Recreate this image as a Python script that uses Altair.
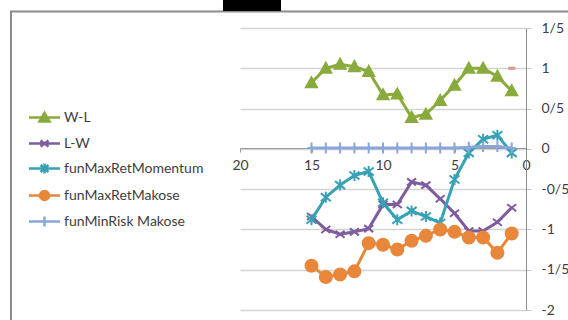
import altair as alt
import pandas as pd

# ---- data ----
x_vals = [15, 14, 13, 12, 11, 10, 9, 8, 7, 6, 5, 4, 3, 2, 1]
wl = [0.82, 1.00, 1.05, 1.02, 0.96, 0.67, 0.68, 0.39, 0.43, 0.60, 0.79, 1.00, 1.00, 0.90, 0.72]
lw = [-0.84, -1.00, -1.06, -1.03, -0.99, -0.69, -0.69, -0.41, -0.45, -0.62, -0.80, -1.02, -1.02, -0.91, -0.73]
mom = [-0.88, -0.60, -0.45, -0.33, -0.28, -0.67, -0.88, -0.77, -0.84, -0.92, -0.38, -0.05, 0.12, 0.17, -0.05]
mak = [-1.45, -1.59, -1.56, -1.52, -1.17, -1.19, -1.25, -1.14, -1.08, -1.00, -1.03, -1.10, -1.10, -1.29, -1.05]
minr = [0.01, 0.01, 0.01, 0.01, 0.01, 0.01, 0.01, 0.01, 0.01, 0.01, 0.01, 0.02, 0.03, 0.03, 0.01]
extra_x = [1]
extra_y = [1.0]

series_names = ["W-L", "L-W", "funMaxRetMomentum", "funMaxRetMakose", "funMinRisk Makose"]
series_vals = [wl, lw, mom, mak, minr]
colors = ["#88AB3C", "#7D5C9F", "#38A1B5", "#E8873A", "#88A6D8"]
y_ticks = [-2, -1.5, -1, -0.5, 0, 0.5, 1, 1.5]
x_ticks = [0, 5, 10, 15, 20]

# plot marker shapes (unit = 5px at size 100)
marker_paths = [
    "M-1.1,0.9L0,-1.1L1.1,0.9Z",
    "M-0.9,-0.7L0.9,0.7M-0.9,0.7L0.9,-0.7",
    "M-1,-0.8L1,0.8M-1,0.8L1,-0.8M0,-1.1L0,1.1",
    "M1.2,0A1.2,1.2,0,1,1,-1.2,0A1.2,1.2,0,1,1,1.2,0Z",
    "M-0.8,0L0.8,0M0,-1.1L0,1.1",
]
marker_filled = [True, False, False, True, False]

# legend symbols (unit = 10px at size 400)
legend_paths = [
    "M-1.55,0L1.55,0M-0.5,0.4L0,-0.45L0.5,0.4Z",
    "M-1.55,0L1.55,0M-0.4,-0.3L0.4,0.3M-0.4,0.3L0.4,-0.3",
    "M-1.55,0L1.55,0M-0.4,-0.35L0.4,0.35M-0.4,0.35L0.4,-0.35M0,-0.5L0,0.5",
    "M-1.55,0L1.55,0M0.45,0A0.45,0.45,0,1,1,-0.45,0A0.45,0.45,0,1,1,0.45,0Z",
    "M-1.55,0L1.55,0M0,-0.5L0,0.5",
]

FONT = "Lato"

xscale = alt.Scale(domain=[0, 20], reverse=True, nice=False)
yscale = alt.Scale(domain=[-2, 1.5], nice=False)

x_axis = alt.Axis(values=x_ticks, orient="bottom", offset=-162, grid=False,
                  domainColor="#9A9A9A", tickColor="#9A9A9A", tickSize=4,
                  labelFont=FONT, labelFontSize=14, labelColor="#404040",
                  labelPadding=6, title=None, labelFlush=False)
y_axis = alt.Axis(values=y_ticks, orient="right", grid=True, gridColor="#D4D4D4",
                  gridWidth=1.3, domainColor="#8C8C8C", tickColor="#C4C4C4",
                  tickSize=5, labelPadding=10, labelFont=FONT, labelFontSize=14,
                  labelColor="#404040", labelAlign="left",
                  labelExpr="replace(toString(datum.value), '.', '/')", title=None)

layers = []
# base axis layer
axis_df = pd.DataFrame({"x": x_vals, "y": wl})
layers.append(
    alt.Chart(axis_df).mark_point(opacity=0).encode(
        x=alt.X("x:Q", scale=xscale, axis=x_axis),
        y=alt.Y("y:Q", scale=yscale, axis=y_axis),
    )
)

for name, vals, col, path, filled in zip(series_names, series_vals, colors, marker_paths, marker_filled):
    df = pd.DataFrame({"x": x_vals, "y": vals})
    base = alt.Chart(df)
    layers.append(base.mark_line(color=col, strokeWidth=3).encode(
        x=alt.X("x:Q", scale=xscale), y=alt.Y("y:Q", scale=yscale)))
    layers.append(base.mark_point(shape=path, size=100, stroke=col, strokeWidth=2,
                                  fill=col if filled else "transparent", opacity=1).encode(
        x=alt.X("x:Q", scale=xscale), y=alt.Y("y:Q", scale=yscale)))

# small red dash marker
extra_df = pd.DataFrame({"x": extra_x, "y": extra_y})
layers.append(alt.Chart(extra_df).mark_point(
    shape="M-1,-0.45L1,-0.45L1,0.45L-1,0.45Z", size=49, filled=True,
    color="#D99795", opacity=1).encode(
    x=alt.X("x:Q", scale=xscale), y=alt.Y("y:Q", scale=yscale)))

# legend layer (points drawn off-canvas, only legend shown)
leg_df = pd.DataFrame({"series_lg": series_names})
layers.append(alt.Chart(leg_df).mark_point(filled=False, strokeWidth=2.5, opacity=1).encode(
    x=alt.value(-5000), y=alt.value(-5000),
    color=alt.Color("series_lg:N", scale=alt.Scale(domain=series_names, range=colors),
                    sort=series_names,
                    legend=alt.Legend(title=None, orient="none", legendX=-207, legendY=78,
                                      symbolSize=400, symbolStrokeWidth=2.5, symbolOpacity=1,
                                      labelFont=FONT, labelFontSize=14, labelColor="#404040",
                                      labelOffset=8, rowPadding=5, padding=0)),
    fill=alt.Fill("series_lg:N", scale=alt.Scale(domain=series_names, range=colors),
                  sort=series_names),
    shape=alt.Shape("series_lg:N", scale=alt.Scale(domain=series_names, range=legend_paths),
                    sort=series_names),
))

# frame decorations
deco_df = pd.DataFrame({"k": [0]})
layers.append(alt.Chart(deco_df).mark_rule(color="#8C8C8C", strokeWidth=2).encode(
    x=alt.value(-230), x2=alt.value(330), y=alt.value(-16.5)))
layers.append(alt.Chart(deco_df).mark_rule(color="#8C8C8C", strokeWidth=2).encode(
    x=alt.value(-229), y=alt.value(-16.5), y2=alt.value(300)))
layers.append(alt.Chart(deco_df).mark_rect(color="#000000").encode(
    x=alt.value(-17), x2=alt.value(41), y=alt.value(-30), y2=alt.value(-17)))

chart = alt.layer(*layers).properties(
    width=286, height=282,
    padding={"left": 240, "top": 28, "right": 42, "bottom": 10},
    autosize=alt.AutoSizeParams(type="none"),
    background="white",
).configure_view(stroke=None)

chart.save("out.html", embed_options={"renderer": "svg", "actions": False})
